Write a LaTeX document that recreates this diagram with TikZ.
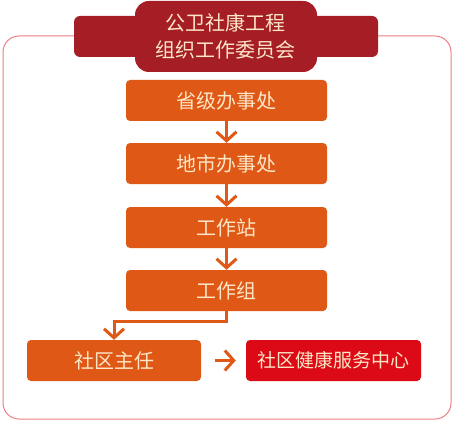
\documentclass[tikz,border=0pt]{standalone}
\usepackage{fontspec}
\setmainfont{Noto Sans CJK SC}
\usetikzlibrary{arrows.meta}
\definecolor{framered}{HTML}{EE7D84}
\definecolor{titlered}{HTML}{A51E25}
\definecolor{boxorange}{HTML}{E05816}
\definecolor{boxred}{HTML}{DC0A16}
\definecolor{cream}{HTML}{FCE6C6}

\begin{document}
\begin{tikzpicture}[x=1pt,y=-1pt,
  box/.style={fill=boxorange, rounded corners=4pt, minimum height=41pt,
    minimum width=201pt, inner sep=0pt, text=cream,
    font=\fontsize{20}{24}\selectfont},
  conn/.style={draw=boxorange, line width=3pt,
    -{Straight Barb[length=9pt,width=20pt]}}]
\useasboundingbox (0,0) rectangle (454,422);
\draw[framered, line width=1pt, rounded corners=16pt] (3,36) rectangle (451,419);
\fill[titlered, rounded corners=6pt] (74,16) rectangle (378,57);
\fill[titlered, rounded corners=14pt] (135,1) rectangle (317,72);
\node[text=cream, align=center, inner sep=0pt,
  font=\fontsize{20}{27}\selectfont] (T) at (225.5,36) {公卫社康工程\\组织工作委员会};
\foreach \c/\y/\l in {A/100.5/省级办事处,B/163.5/地市办事处,C/227.5/工作站,D/290.5/工作组}
{\node[box] (\c) at (226.5,\y) {\l};}
\node[box, minimum width=174pt] (E) at (114,360.5) {社区主任};
\node[box, fill=boxred, minimum width=175pt,
  font=\fontsize{19}{24}\selectfont] (F) at (333.5,360.5) {社区健康服务中心};
\draw[conn] (A) -- (B);
\draw[conn] (B) -- (C);
\draw[conn] (C) -- (D);
\draw[conn, rounded corners=0pt] (D.south) -- ++(0,10) -| (E.north);
\draw[conn, shorten <=14pt, shorten >=10pt] (E) -- (F);
\end{tikzpicture}
\end{document}
